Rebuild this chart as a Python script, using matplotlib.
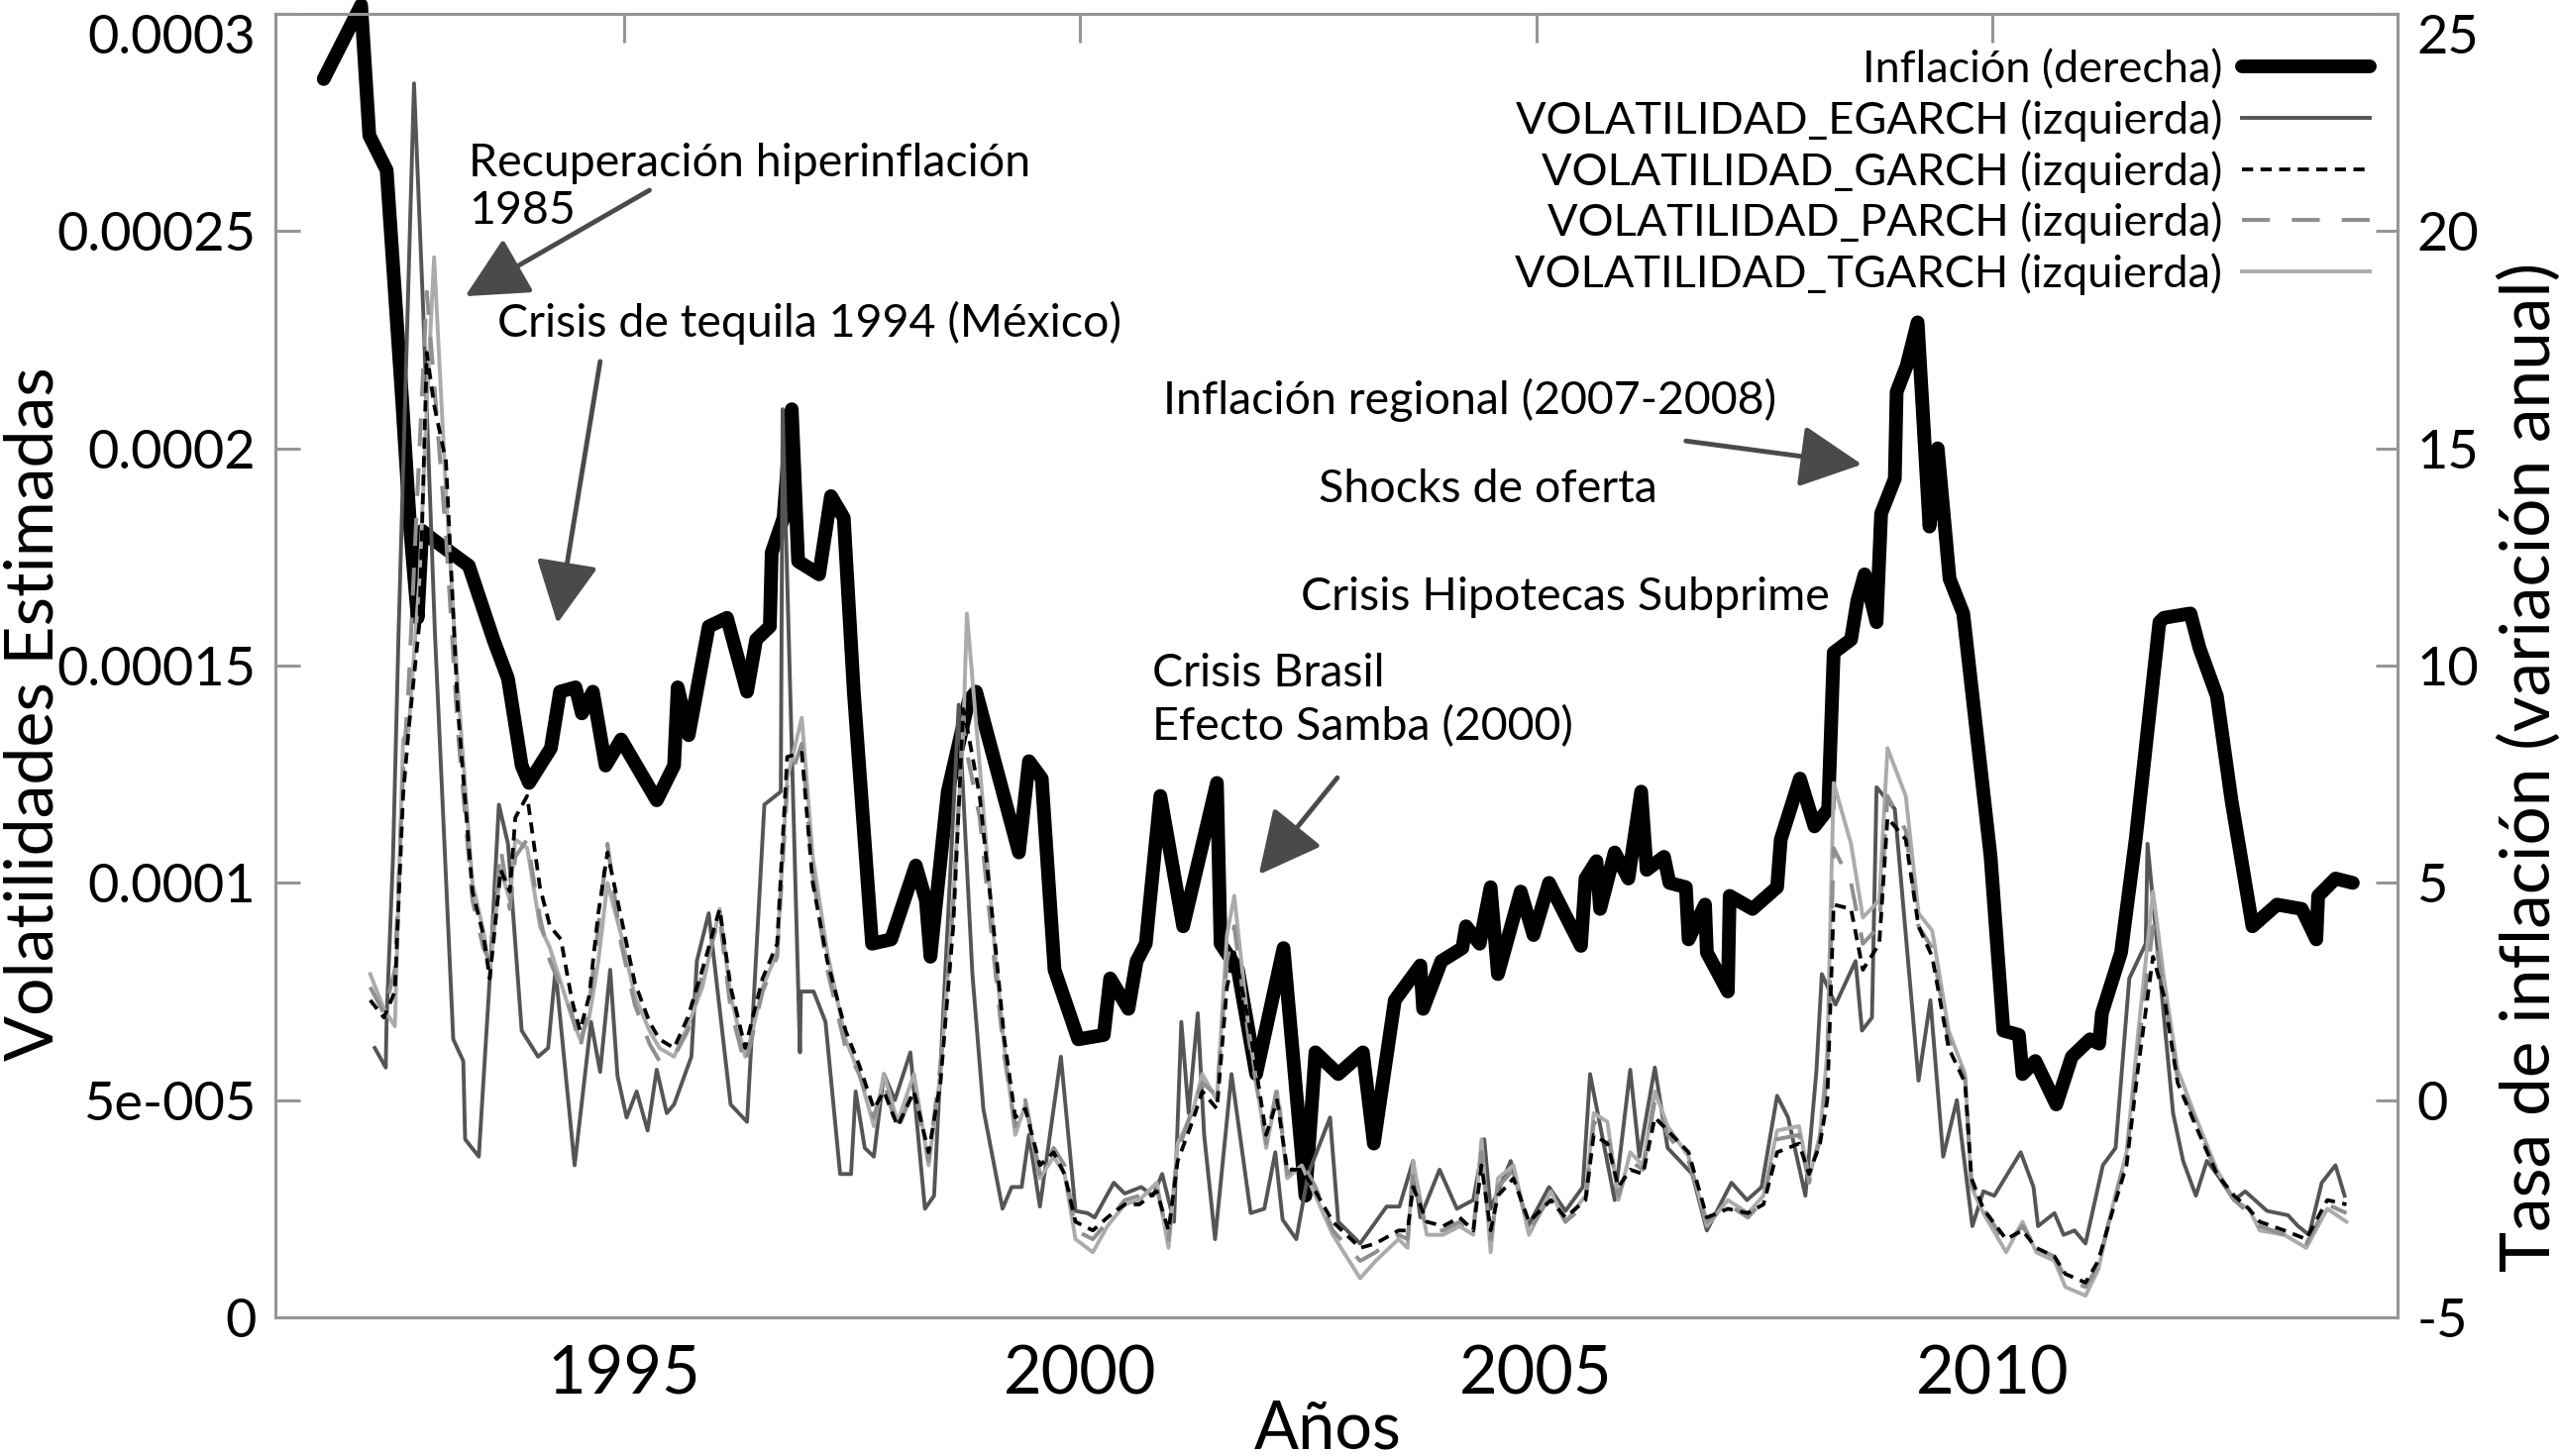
import numpy as np
import matplotlib
matplotlib.use('Agg')
import matplotlib.pyplot as plt

# ---------------------------------------------------------------------------- #
# ----------------------------------- Datos ---------------------------------- #
# ---------------------------------------------------------------------------- #
# Inflacion (variacion anual, %), eje derecho
anios_inflacion = [
    1991.71, 1992.12, 1992.21, 1992.40, 1992.57, 1992.66, 1992.74, 1992.79,
    1992.91, 1993.30, 1993.57, 1993.73, 1993.88, 1993.96, 1994.20, 1994.30,
    1994.47, 1994.54, 1994.66, 1994.80, 1994.97, 1995.36, 1995.55, 1995.59,
    1995.71, 1995.93, 1996.13, 1996.35, 1996.45, 1996.60, 1996.62, 1996.75,
    1996.84, 1996.91, 1997.14, 1997.27, 1997.41, 1997.52, 1997.72, 1997.93,
    1998.20, 1998.31, 1998.36, 1998.55, 1998.67, 1998.78, 1998.86, 1999.33,
    1999.44, 1999.58, 1999.72, 1999.98, 2000.26, 2000.33, 2000.53, 2000.62,
    2000.72, 2000.88, 2001.13, 2001.50, 2001.54, 2001.73, 2001.93, 2002.23,
    2002.47, 2002.58, 2002.83, 2003.10, 2003.22, 2003.45, 2003.73, 2003.76,
    2003.96, 2004.19, 2004.23, 2004.38, 2004.50, 2004.58, 2004.83, 2004.97,
    2005.14, 2005.49, 2005.54, 2005.66, 2005.70, 2005.86, 2006.01, 2006.15,
    2006.21, 2006.40, 2006.46, 2006.64, 2006.67, 2006.85, 2006.87, 2007.10,
    2007.12, 2007.37, 2007.64, 2007.68, 2007.89, 2008.05, 2008.20, 2008.26,
    2008.45, 2008.52, 2008.60, 2008.73, 2008.78, 2008.93, 2008.95, 2009.06,
    2009.18, 2009.31, 2009.40, 2009.53, 2009.68, 2009.98, 2010.12, 2010.29,
    2010.33, 2010.47, 2010.70, 2010.87, 2011.07, 2011.17, 2011.20, 2011.41,
    2011.57, 2011.83, 2011.88, 2012.17, 2012.27, 2012.46, 2012.62, 2012.85,
    2013.12, 2013.39, 2013.55, 2013.57, 2013.76, 2013.95]
inflacion = [
    23.5, 25.2, 22.2, 21.4, 16.1, 13.1, 11.1, 13.1,
    12.9, 12.3, 10.6, 9.7, 7.7, 7.3, 8.1, 9.4,
    9.5, 8.9, 9.4, 7.7, 8.3, 6.9, 7.7, 9.5,
    8.4, 10.9, 11.1, 9.4, 10.6, 10.9, 12.6, 13.4,
    15.9, 12.4, 12.1, 13.9, 13.4, 9.4, 3.6, 3.7,
    5.4, 4.6, 3.3, 7.1, 8.2, 9.2, 9.4, 5.7,
    7.8, 7.4, 3.0, 1.4, 1.5, 2.8, 2.1, 3.2,
    3.6, 7.0, 4.0, 7.3, 3.6, 3.0, 0.6, 3.5,
    -2.2, 1.1, 0.6, 1.1, -1.0, 2.3, 3.1, 2.1,
    3.2, 3.5, 4.0, 3.6, 4.9, 2.9, 4.8, 3.8,
    5.0, 3.55, 5.1, 5.5, 4.4, 5.7, 5.1, 7.1,
    5.3, 5.6, 5.0, 4.9, 3.7, 4.5, 3.4, 2.5,
    4.7, 4.4, 4.9, 6.0, 7.4, 6.3, 6.7, 10.3,
    10.6, 11.5, 12.1, 11.0, 13.5, 14.3, 16.3, 16.9,
    17.9, 13.2, 15.0, 12.0, 11.2, 5.6, 1.6, 1.5,
    0.6, 0.9, -0.1, 1.0, 1.4, 1.3, 2.0, 3.4,
    6.0, 11.0, 11.1, 11.2, 10.4, 9.3, 6.9, 4.0,
    4.5, 4.4, 3.7, 4.7, 5.1, 5.0]

# Volatilidad EGARCH (x 1e-5), eje izquierdo
anios_egarch = [
    1992.27, 1992.39, 1992.40, 1992.47, 1992.53, 1992.70, 1992.80, 1992.93,
    1993.13, 1993.24, 1993.26, 1993.41, 1993.53, 1993.63, 1993.73, 1993.88,
    1994.06, 1994.17, 1994.25, 1994.46, 1994.64, 1994.74, 1994.85, 1994.93,
    1995.03, 1995.14, 1995.26, 1995.36, 1995.47, 1995.55, 1995.74, 1995.80,
    1995.93, 1996.17, 1996.35, 1996.54, 1996.72, 1996.74, 1996.93, 1996.94,
    1997.08, 1997.21, 1997.37, 1997.49, 1997.54, 1997.64, 1997.74, 1997.85,
    1997.97, 1998.14, 1998.30, 1998.40, 1998.67, 1998.82, 1998.94, 1999.15,
    1999.25, 1999.36, 1999.44, 1999.56, 1999.79, 1999.95, 2000.08, 2000.16,
    2000.37, 2000.49, 2000.67, 2000.80, 2000.90, 2001.03, 2001.11, 2001.19,
    2001.29, 2001.36, 2001.48, 2001.66, 2001.87, 2002.02, 2002.14, 2002.22,
    2002.37, 2002.50, 2002.74, 2002.83, 2003.07, 2003.36, 2003.50, 2003.65,
    2003.73, 2003.94, 2004.13, 2004.31, 2004.43, 2004.50, 2004.72, 2004.91,
    2005.14, 2005.32, 2005.51, 2005.59, 2005.72, 2005.86, 2006.03, 2006.13,
    2006.30, 2006.44, 2006.71, 2006.87, 2007.14, 2007.31, 2007.47, 2007.64,
    2007.76, 2007.95, 2008.07, 2008.13, 2008.28, 2008.50, 2008.57, 2008.68,
    2008.73, 2008.93, 2009.19, 2009.32, 2009.46, 2009.61, 2009.78, 2009.90,
    2010.02, 2010.31, 2010.45, 2010.50, 2010.68, 2010.78, 2010.90, 2011.02,
    2011.21, 2011.35, 2011.50, 2011.68, 2011.70, 2011.98, 2012.09, 2012.23,
    2012.35, 2012.46, 2012.65, 2012.77, 2013.01, 2013.24, 2013.35, 2013.47,
    2013.61, 2013.76, 2013.86]
vol_egarch = [
    6.2, 5.75, 6.9, 10.6, 15.7, 28.4, 23.2, 15.7,
    6.4, 5.9, 4.1, 3.7, 7.8, 11.8, 10.9, 6.6,
    6.0, 6.2, 8.0, 3.5, 6.8, 5.65, 8.0, 5.56,
    4.6, 5.2, 4.3, 5.7, 4.7, 4.9, 6.0, 8.2,
    9.3, 4.9, 4.5, 11.8, 12.1, 20.9, 6.1, 7.5,
    7.5, 6.8, 3.3, 3.3, 5.2, 3.9, 3.7, 5.6,
    5.0, 6.1, 2.5, 2.8, 14.1, 7.9, 4.8, 2.5,
    3.0, 3.0, 4.2, 2.55, 6.0, 2.45, 2.4, 2.3,
    3.1, 2.85, 3.0, 2.8, 3.3, 2.2, 6.8, 4.7,
    7.0, 4.2, 1.8, 5.6, 2.4, 2.5, 3.8, 2.25,
    1.8, 3.3, 4.6, 2.2, 1.7, 2.55, 2.55, 3.6,
    2.3, 3.4, 2.5, 2.7, 4.1, 2.5, 3.6, 2.1,
    3.0, 2.45, 3.0, 5.6, 4.2, 2.7, 5.7, 3.7,
    5.75, 3.9, 3.3, 2.0, 3.1, 2.7, 3.0, 5.1,
    4.6, 2.8, 5.65, 7.9, 7.2, 8.2, 6.6, 6.9,
    12.2, 11.7, 5.45, 7.3, 3.7, 5.0, 2.1, 2.9,
    2.8, 3.8, 3.0, 2.1, 2.4, 1.9, 2.0, 1.7,
    3.5, 3.9, 7.8, 8.6, 10.9, 4.7, 3.6, 2.8,
    3.6, 3.3, 2.7, 2.9, 2.45, 2.35, 2.1, 1.9,
    3.1, 3.5, 2.8]

# Volatilidades GARCH, PARCH y TGARCH (x 1e-5), eje izquierdo
anios_vol = [
    1992.22, 1992.37, 1992.49, 1992.58, 1992.64, 1992.76, 1992.84, 1992.92,
    1993.05, 1993.18, 1993.34, 1993.46, 1993.53, 1993.65, 1993.75, 1993.81,
    1993.94, 1994.08, 1994.19, 1994.31, 1994.43, 1994.52, 1994.62, 1994.72,
    1994.82, 1994.97, 1995.12, 1995.28, 1995.39, 1995.55, 1995.70, 1995.86,
    1996.05, 1996.17, 1996.33, 1996.40, 1996.52, 1996.68, 1996.79, 1996.95,
    1997.07, 1997.23, 1997.43, 1997.58, 1997.74, 1997.85, 1998.00, 1998.18,
    1998.34, 1998.47, 1998.61, 1998.72, 1998.76, 1998.90, 1999.06, 1999.17,
    1999.29, 1999.40, 1999.56, 1999.71, 1999.83, 1999.95, 2000.14, 2000.30,
    2000.49, 2000.65, 2000.84, 2000.97, 2001.07, 2001.23, 2001.34, 2001.50,
    2001.61, 2001.69, 2001.85, 2002.04, 2002.16, 2002.27, 2002.43, 2002.58,
    2002.77, 2003.07, 2003.24, 2003.49, 2003.59, 2003.65, 2003.80, 2003.98,
    2004.16, 2004.31, 2004.40, 2004.50, 2004.58, 2004.75, 2004.92, 2005.16,
    2005.32, 2005.54, 2005.63, 2005.78, 2005.90, 2006.03, 2006.17, 2006.30,
    2006.44, 2006.67, 2006.87, 2007.10, 2007.32, 2007.49, 2007.64, 2007.88,
    2007.99, 2008.11, 2008.19, 2008.26, 2008.45, 2008.58, 2008.76, 2008.85,
    2009.05, 2009.19, 2009.34, 2009.52, 2009.70, 2009.77, 2009.90, 2010.15,
    2010.33, 2010.48, 2010.68, 2010.80, 2011.02, 2011.16, 2011.31, 2011.47,
    2011.60, 2011.76, 2011.88, 2012.03, 2012.23, 2012.46, 2012.65, 2012.81,
    2012.93, 2013.20, 2013.44, 2013.67, 2013.88]
vol_garch = [
    7.3, 6.9, 7.5, 12.0, 13.5, 16.0, 22.2, 21.0,
    19.7, 14.0, 9.8, 8.8, 7.8, 10.3, 9.8, 11.5,
    12.0, 9.9, 9.0, 8.7, 7.3, 6.6, 7.4, 9.3,
    10.7, 9.2, 7.7, 6.8, 6.4, 6.2, 6.9, 8.0,
    9.4, 7.6, 6.2, 6.8, 7.8, 8.6, 12.9, 13.0,
    10.0, 8.2, 6.6, 5.8, 4.8, 5.2, 4.4, 5.2,
    3.8, 5.4, 9.0, 14.0, 13.6, 12.0, 8.8, 6.4,
    4.6, 4.8, 3.5, 3.8, 3.3, 2.2, 2.0, 2.3,
    2.6, 2.6, 2.9, 2.0, 3.6, 4.5, 5.2, 4.8,
    7.6, 8.4, 6.8, 4.2, 5.0, 3.4, 3.4, 2.9,
    2.2, 1.6, 1.7, 2.0, 2.0, 3.0, 2.2, 2.1,
    2.3, 2.0, 3.5, 2.0, 2.8, 3.2, 2.2, 2.7,
    2.3, 2.7, 4.2, 4.0, 3.0, 3.4, 3.3, 4.6,
    4.3, 3.8, 2.3, 2.5, 2.4, 2.6, 3.8, 4.0,
    3.3, 4.0, 5.0, 9.5, 9.4, 8.0, 8.6, 11.5,
    11.0, 9.0, 8.3, 6.2, 5.4, 3.2, 2.5, 1.8,
    2.0, 1.6, 1.4, 1.0, 0.8, 1.3, 2.4, 3.5,
    5.8, 8.3, 7.4, 5.4, 4.4, 3.3, 2.8, 2.5,
    2.2, 2.0, 1.8, 2.7, 2.6]
vol_parch = [
    7.6, 7.0, 8.0, 12.5, 14.5, 20.0, 23.6, 21.5,
    18.0, 13.5, 9.6, 8.5, 8.2, 10.8, 9.4, 10.6,
    11.0, 9.2, 8.2, 7.6, 7.0, 6.2, 7.2, 9.0,
    10.9, 8.6, 7.2, 6.3, 5.9, 6.0, 6.6, 7.9,
    9.2, 7.1, 5.8, 6.4, 7.5, 8.3, 12.2, 13.2,
    10.2, 8.0, 6.2, 5.6, 4.6, 5.4, 4.3, 5.3,
    3.6, 5.8, 9.5, 13.8, 13.0, 11.5, 8.2, 6.0,
    4.4, 5.0, 3.3, 3.9, 3.5, 2.0, 1.8, 2.2,
    2.7, 2.8, 3.0, 1.8, 3.8, 4.8, 5.4, 5.1,
    8.2, 9.0, 6.4, 4.0, 5.3, 3.3, 3.6, 3.0,
    2.0, 1.3, 1.5, 1.9, 1.8, 3.3, 2.0, 2.0,
    2.2, 2.0, 3.8, 1.8, 3.0, 3.4, 2.0, 2.8,
    2.2, 2.6, 4.5, 4.3, 2.8, 3.6, 3.4, 5.0,
    4.2, 3.6, 2.2, 2.6, 2.3, 2.7, 4.1, 4.2,
    3.1, 4.1, 5.6, 10.8, 10.0, 8.6, 9.0, 12.0,
    11.2, 9.0, 8.5, 6.4, 5.5, 3.1, 2.5, 1.7,
    2.1, 1.6, 1.4, 0.9, 0.7, 1.2, 2.5, 3.7,
    6.2, 9.0, 7.5, 5.5, 4.5, 3.3, 2.7, 2.4,
    2.1, 1.9, 1.7, 2.6, 2.4]
vol_tgarch = [
    7.9, 7.1, 6.7, 13.3, 13.5, 17.0, 21.0, 24.4,
    19.0, 14.5, 10.0, 8.9, 8.0, 10.3, 9.6, 11.0,
    10.8, 9.0, 8.5, 7.7, 6.9, 6.4, 6.9, 8.2,
    10.0, 8.8, 7.4, 6.6, 6.2, 6.0, 6.7, 7.6,
    9.4, 7.4, 6.0, 6.5, 7.6, 8.4, 12.4, 13.8,
    10.6, 8.4, 6.4, 5.6, 4.4, 5.6, 4.5, 5.6,
    3.5, 5.6, 9.6, 13.5, 16.2, 12.7, 8.6, 6.2,
    4.2, 4.9, 3.2, 3.7, 3.3, 1.8, 1.5, 2.1,
    2.6, 2.7, 3.1, 1.6, 4.0, 4.7, 5.6, 5.0,
    8.8, 9.7, 6.6, 3.9, 5.2, 3.2, 3.5, 2.8,
    1.9, 0.9, 1.3, 1.8, 1.6, 3.6, 1.9, 1.9,
    2.1, 1.9, 4.1, 1.5, 3.2, 3.5, 1.9, 2.9,
    2.2, 2.8, 4.7, 4.5, 2.7, 3.8, 3.5, 5.2,
    4.4, 3.7, 2.1, 2.7, 2.4, 2.8, 4.3, 4.4,
    3.2, 4.2, 6.1, 12.3, 10.9, 9.2, 9.6, 13.1,
    12.0, 9.3, 8.9, 6.6, 5.6, 3.0, 2.4, 1.5,
    2.2, 1.5, 1.3, 0.7, 0.5, 1.1, 2.5, 3.8,
    6.6, 9.8, 7.8, 5.7, 4.6, 3.4, 2.7, 2.5,
    2.0, 1.9, 1.6, 2.5, 2.2]

ticks_anios = [1995, 2000, 2005, 2010]
ticks_izq = [0, 5e-5, 1e-4, 1.5e-4, 2e-4, 2.5e-4, 3e-4]
etiquetas_izq = ['0', '5e-005', '0.0001', '0.00015', '0.0002', '0.00025', '0.0003']
ticks_der = [-5, 0, 5, 10, 15, 20, 25]

# ---------------------------------------------------------------------------- #
# ---------------------------------- Grafico --------------------------------- #
# ---------------------------------------------------------------------------- #
plt.rcParams['font.family'] = ['Lato', 'DejaVu Sans']
GRIS_EJE = '#959595'
GRIS_FLECHA = '#4a4a4a'

fig = plt.figure(figsize=(25.83, 14.70), dpi=100)
ax = fig.add_axes([0.1076, 0.0952, 0.8293, 0.8953])
ax2 = ax.twinx()
# volatilidades encima de la inflacion
ax.set_zorder(ax2.get_zorder() + 1)
ax.patch.set_visible(False)

# ------------------------------- inflacion ---------------------------------- #
l_inf, = ax2.plot(anios_inflacion, inflacion, color='black', lw=10,
                  solid_joinstyle='round', solid_capstyle='round',
                  clip_on=False)

# ----------------------------- volatilidades -------------------------------- #
esc = 1e-5
l_eg, = ax.plot(anios_egarch, np.array(vol_egarch) * esc, color='#555555', lw=2.8)
l_tg, = ax.plot(anios_vol, np.array(vol_tgarch) * esc, color='#ababab', lw=2.8)
l_pa, = ax.plot(anios_vol, np.array(vol_parch) * esc, color='#8f8f8f', lw=2.9,
                dashes=(7, 5.5))
l_ga, = ax.plot(anios_vol, np.array(vol_garch) * esc, color='black', lw=2.7,
                dashes=(3, 2))

# --------------------------------- ejes ------------------------------------- #
ax.set_xlim(1991.18, 2014.44)
ax.set_ylim(0, 0.0003)
ax2.set_ylim(-5, 25)

ax.set_xticks(ticks_anios)
ax.set_xticklabels([str(a) for a in ticks_anios])
ax.set_yticks(ticks_izq)
ax.set_yticklabels(etiquetas_izq)
ax2.set_yticks(ticks_der)
ax2.set_yticklabels([str(t) for t in ticks_der])
# la etiqueta superior queda dentro de la figura
ax.get_yticklabels()[-1].set_verticalalignment('top')
ax2.get_yticklabels()[-1].set_verticalalignment('top')

for a in (ax, ax2):
    for s in a.spines.values():
        s.set_color(GRIS_EJE)
        s.set_linewidth(2.2)

ax.tick_params(axis='x', direction='in', top=True, bottom=False,
               labelbottom=True, labeltop=False, length=21, width=2.2,
               color=GRIS_EJE, labelsize=48, pad=20)
ax.tick_params(axis='y', direction='in', left=True, right=False,
               length=18, width=2.2, color=GRIS_EJE, labelsize=39, pad=14)
ax2.tick_params(axis='y', direction='in', right=True, left=False,
                length=16, width=2.2, color=GRIS_EJE, labelsize=39, pad=14)

fig.text(0.0135, 0.51, 'Volatilidades Estimadas', rotation=90,
         ha='center', va='center', fontsize=49)
fig.text(0.9885, 0.473, 'Tasa de inflación (variación anual)', rotation=90,
         ha='center', va='center', fontsize=50)
fig.text(0.519, 0.018, 'Años', ha='center', va='center', fontsize=48)

# ------------------------------- leyenda ------------------------------------ #
ax.legend([l_inf, l_eg, l_ga, l_pa, l_tg],
          ['Inflación (derecha)', 'VOLATILIDAD_EGARCH (izquierda)',
           'VOLATILIDAD_GARCH (izquierda)', 'VOLATILIDAD_PARCH (izquierda)',
           'VOLATILIDAD_TGARCH (izquierda)'],
          loc='upper right', bbox_to_anchor=(0.926, 0.966),
          bbox_transform=fig.transFigure, frameon=False, markerfirst=False,
          fontsize=32.5, handlelength=2.85, handletextpad=0.45,
          labelspacing=0.2, borderpad=0, borderaxespad=0)

# ----------------------------- anotaciones ---------------------------------- #
tam = 33.5
ax.text(1993.30, 2.601e-4, 'Recuperación hiperinflación\n1985', ha='left',
        va='center', fontsize=tam, linespacing=1.2)
ax.text(1993.61, 2.289e-4, 'Crisis de tequila 1994 (México)', ha='left',
        va='center', fontsize=tam)
ax.text(2000.91, 2.111e-4, 'Inflación regional (2007-2008)', ha='left',
        va='center', fontsize=tam)
ax.text(2002.61, 1.906e-4, 'Shocks de oferta', ha='left', va='center',
        fontsize=tam)
ax.text(2002.42, 1.657e-4, 'Crisis Hipotecas Subprime', ha='left',
        va='center', fontsize=tam)
ax.text(2000.79, 1.42e-4, 'Crisis Brasil\nEfecto Samba (2000)', ha='left',
        va='center', fontsize=tam, linespacing=1.3)

flecha = dict(arrowstyle='-|>,head_length=0.6,head_width=0.3',
              mutation_scale=65, lw=3.5, color=GRIS_FLECHA,
              shrinkA=0, shrinkB=0)
for cola, punta in [((1995.28, 2.594e-4), (1993.26, 2.35e-4)),
                    ((1994.74, 2.20e-4), (1994.27, 1.597e-4)),
                    ((2006.64, 2.017e-4), (2008.57, 1.963e-4)),
                    ((2002.82, 1.242e-4), (2001.96, 1.019e-4))]:
    ax.annotate('', xy=punta, xytext=cola, arrowprops=flecha)

plt.savefig('out.png', dpi=100)
plt.close()
